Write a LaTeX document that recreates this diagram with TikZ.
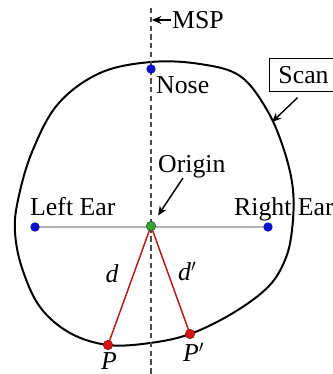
\documentclass[tikz,border=0pt]{standalone}
\usepackage{fontspec}
\setmainfont{Liberation Serif}
\usetikzlibrary{arrows.meta}
\definecolor{LmkClr}{rgb}{0.05,0.05,0.8}
\definecolor{OrgClr}{rgb}{0.2,0.65,0.2}
\definecolor{DistClr}{rgb}{0.7,0.13,0.13}
\definecolor{PtClr}{rgb}{0.85,0.08,0.08}

\begin{document}
\begin{tikzpicture}[x=0.03cm,y=-0.03cm,
  lbl/.style={font=\fontsize{22}{26}\selectfont,inner sep=0pt},
  pt/.style={circle,inner sep=0pt,minimum size=2.8mm},
  arr/.style={-{Stealth[length=2.8mm,width=2.4mm]},line width=1.2pt}]
\useasboundingbox (0,0) rectangle (332,374);

\coordinate (M1) at (151,8);
\coordinate (M2) at (151,374);
\coordinate (MT) at (152,20);
\coordinate (N) at (151,69);
\coordinate (O) at (151,226);
\coordinate (LE) at (35,227);
\coordinate (RE) at (268,227);
\coordinate (P) at (108,345);
\coordinate (Pp) at (190,334);
\coordinate (ST) at (272,122);
\coordinate (OF) at (183,178);

\draw[line width=1.7pt] plot[smooth cycle,tension=0.6] coordinates {
  (151,62) (200,64) (240,76) (267,110) (284,150) (293,190) (292,230)
  (285,260) (268,287) (233,313) (190,334) (150,343) (108,345) (70,333)
  (40,307) (22,268) (15,232) (18,200) (32,152) (58,104) (100,73)};

\draw[dashed,dash pattern=on 4.5pt off 3pt,line width=1.1pt,black!70] (M1) -- (M2);
\draw[line width=1.8pt,black!30] (LE) -- (RE);
\draw[line width=1.3pt,DistClr] (P) -- (O) -- (Pp);

\node[pt,fill=LmkClr] (nose) at (N) {};
\node[pt,fill=LmkClr] (lear) at (LE) {};
\node[pt,fill=LmkClr] (rear) at (RE) {};
\node[pt,fill=OrgClr,draw=OrgClr!60!black,line width=0.6pt] (origin) at (O) {};
\node[pt,fill=PtClr,draw=PtClr!70!black,line width=0.6pt] (p) at (P) {};
\node[pt,fill=PtClr,draw=PtClr!70!black,line width=0.6pt] (pp) at (Pp) {};

\node[lbl,anchor=west] (msp) at (172,20) {MSP};
\node[lbl,anchor=west] (noselbl) at (156,85) {Nose};
\node[lbl,anchor=base west] (originlbl) at (158,173) {Origin};
\node[lbl,anchor=base west] (learlbl) at (30,215) {Left Ear};
\node[lbl,anchor=base west] (rearlbl) at (234,215) {Right Ear};
\node[lbl,anchor=base] (dlbl) at (112,282) {\textit{d}};
\node[lbl,anchor=base west] (dplbl) at (178,280) {\textit{d}$'$};
\node[lbl,anchor=base] (plbl) at (109,369) {\textit{P}};
\node[lbl,anchor=base west] (pplbl) at (183,361) {\textit{P}$'$};
\node[lbl,draw,line width=0.8pt,anchor=west,inner xsep=2.7mm,minimum height=9.9mm] (scan) at (269,75) {Scan};

\draw[arr,shorten <=1pt] (msp.west) -- (MT);
\draw[arr,shorten <=2.5mm] (scan.south) -- (ST);
\draw[arr,shorten >=3.8mm] (OF) -- (O);

\end{tikzpicture}
\end{document}
